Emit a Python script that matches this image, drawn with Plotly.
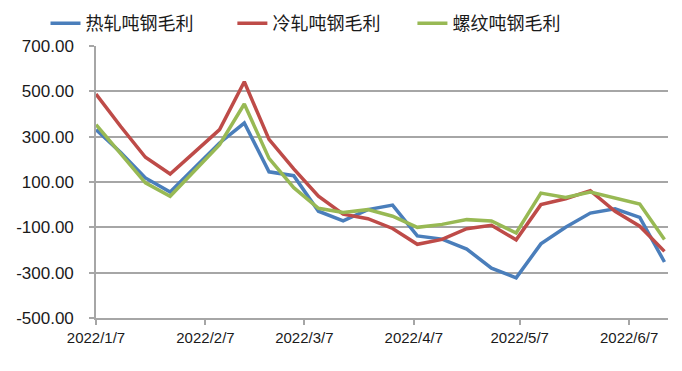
import plotly.graph_objects as go
import pandas as pd

dates = pd.date_range("2022-01-07", periods=24, freq="7D")
hot_rolled = [331, 230, 118, 56, 164, 272, 360, 145, 128, -29, -71, -22,
              -2, -138, -152, -196, -280, -323, -173, -100, -37, -18, -56, -253]
cold_rolled = [488, 345, 209, 135, 233, 331, 542, 288, 158, 37, -42, -62,
               -105, -175, -153, -106, -91, -155, 0, 26, 62, -29, -95, -206]
rebar = [353, 225, 96, 37, 150, 265, 444, 204, 75, -16, -34, -22,
         -51, -100, -87, -66, -72, -125, 51, 32, 56, 29, 3, -154]

series_names = ["热轧吨钢毛利", "冷轧吨钢毛利", "螺纹吨钢毛利"]
colors = ["#4A7EBB", "#BE4B48", "#98B954"]

x_tick_vals = ["2022-01-07", "2022-02-07", "2022-03-07", "2022-04-07", "2022-05-07", "2022-06-07"]
x_tick_text = ["2022/1/7", "2022/2/7", "2022/3/7", "2022/4/7", "2022/5/7", "2022/6/7"]
y_tick_vals = [-500, -300, -100, 100, 300, 500, 700]
y_tick_text = ["-500.00", "-300.00", "-100.00", "100.00", "300.00", "500.00", "700.00"]

legend_ids = ["legend", "legend2", "legend3"]
legend_x = [0.055, 0.329, 0.593]

fig = go.Figure()
for name, vals, c, lid in zip(series_names, [hot_rolled, cold_rolled, rebar], colors, legend_ids):
    fig.add_trace(go.Scatter(x=dates, y=vals, mode="lines", name=name, legend=lid,
                             line=dict(color=c, width=3.5)))

grid = "#A6A6A6"
legend_style = dict(orientation="h", xref="container", yref="container",
                    y=0.958, xanchor="left", yanchor="middle",
                    font=dict(family="Noto Sans CJK SC", size=18, color="#1a1a1a"),
                    bgcolor="rgba(0,0,0,0)")
layout_legends = {lid: dict(legend_style, x=lx) for lid, lx in zip(legend_ids, legend_x)}

fig.update_layout(
    width=682, height=371,
    margin=dict(l=88, r=22, t=38, b=61, autoexpand=False),
    paper_bgcolor="white", plot_bgcolor="white",
    font=dict(family="Liberation Sans, Arial, sans-serif", color="#1a1a1a"),
    showlegend=True,
    xaxis=dict(type="date", range=["2022-01-07", "2022-06-18"],
               tickvals=x_tick_vals, ticktext=x_tick_text,
               showgrid=False, showline=True, linecolor=grid, linewidth=1.5,
               ticks="outside", ticklen=5, tickcolor=grid, tickwidth=1.5,
               tickfont=dict(size=15, color="#1a1a1a"), zeroline=False),
    yaxis=dict(range=[-500, 700], tickvals=y_tick_vals, ticktext=y_tick_text,
               showgrid=True, gridcolor=grid, gridwidth=1.5,
               showline=True, linecolor=grid, linewidth=1.5,
               ticks="outside", ticklen=5, tickcolor=grid, tickwidth=1.5,
               ticklabelstandoff=12,
               tickfont=dict(size=17, color="#1a1a1a"), zeroline=False),
    **layout_legends,
)

fig.write_html("out.html")
